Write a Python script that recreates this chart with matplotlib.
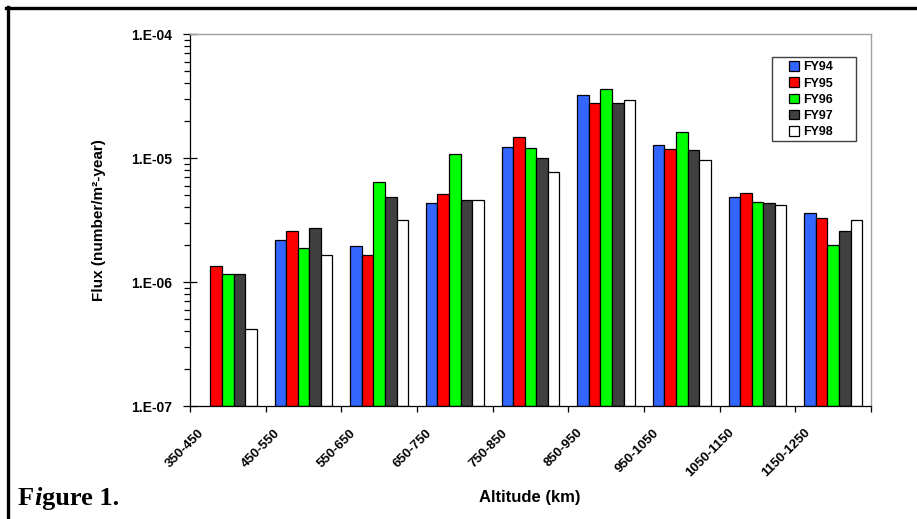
import numpy as np
import matplotlib
matplotlib.use("Agg")
import matplotlib.pyplot as plt
from matplotlib.lines import Line2D
from matplotlib.patches import Rectangle
from matplotlib.transforms import ScaledTranslation

# ---- données ----
altitudes = ["350-450", "450-550", "550-650", "650-750", "750-850",
             "850-950", "950-1050", "1050-1150", "1150-1250"]
series = ["FY94", "FY95", "FY96", "FY97", "FY98"]
fy94 = [np.nan, 2.18e-6, 1.95e-6, 4.31e-6, 1.22e-5, 3.22e-5, 1.27e-5, 4.84e-6, 3.60e-6]
fy95 = [1.35e-6, 2.58e-6, 1.64e-6, 5.10e-6, 1.48e-5, 2.76e-5, 1.19e-5, 5.19e-6, 3.26e-6]
fy96 = [1.17e-6, 1.88e-6, 6.37e-6, 1.08e-5, 1.20e-5, 3.58e-5, 1.63e-5, 4.40e-6, 1.99e-6]
fy97 = [1.16e-6, 2.72e-6, 4.82e-6, 4.60e-6, 9.95e-6, 2.76e-5, 1.16e-5, 4.33e-6, 2.58e-6]
fy98 = [4.16e-7, 1.66e-6, 3.16e-6, 4.55e-6, 7.76e-6, 2.95e-5, 9.60e-6, 4.21e-6, 3.16e-6]
yticks = [1e-7, 1e-6, 1e-5, 1e-4]
ylabels = ["1.E-07", "1.E-06", "1.E-05", "1.E-04"]

colors = ["#3366FF", "#FF0000", "#00FF00", "#404040", "#FFFFFF"]
YMIN, YMAX = 1e-7, 1e-4

plt.rcParams["font.family"] = ["Liberation Sans", "DejaVu Sans"]

fig = plt.figure(figsize=(9.17, 5.19), dpi=100)
ax = fig.add_axes([190 / 917, 1 - 406 / 519, 681 / 917, 372 / 519])
ax.set_yscale("log")
ax.set_ylim(YMIN, YMAX)
ax.set_xlim(0, len(altitudes))

w = 0.153
x = np.arange(len(altitudes)) + 0.5
for j, (name, vals) in enumerate(zip(series, [fy94, fy95, fy96, fy97, fy98])):
    v = np.array(vals)
    ok = ~np.isnan(v)
    ax.bar(x[ok] + (j - 2) * w, v[ok] - YMIN, bottom=YMIN, width=w,
           color=colors[j], edgecolor="black", linewidth=0.9, label=name, zorder=2)

# axe y
ax.set_yticks(yticks, ylabels)
ax.tick_params(axis="y", which="major", direction="inout", length=9.5, width=0.9,
               pad=8, labelsize=10)
ax.tick_params(axis="y", which="minor", direction="out", length=4.3, width=0.9)
for t in ax.get_yticklabels():
    t.set_fontweight("bold")

# axe x : traits aux limites, étiquettes au centre
ax.set_xticks(np.arange(len(altitudes) + 1))
ax.set_xticklabels([])
ax.set_xticks(x, altitudes, minor=True)
ax.tick_params(axis="x", which="major", direction="out", length=4, width=0.9)
ax.tick_params(axis="x", which="minor", length=0, pad=15, labelsize=9.5)
off = ScaledTranslation(-21 / 100, 0, fig.dpi_scale_trans)
for t in ax.get_xticklabels(minor=True):
    t.set_rotation(45)
    t.set_ha("right")
    t.set_va("top")
    t.set_fontweight("bold")
    t.set_transform(t.get_transform() + off)

for s in ["left", "bottom"]:
    ax.spines[s].set_color("black")
    ax.spines[s].set_linewidth(0.9)
for s in ["top", "right"]:
    ax.spines[s].set_color("#A0A0A0")
    ax.spines[s].set_linewidth(1.0)

ax.set_ylabel("Flux (number/m²-year)", fontsize=11, fontweight="bold", labelpad=0)
ax.yaxis.set_label_coords(-0.124, 0.5)
fig.text(530 / 917, 1 - 502 / 519, "Altitude (km)", ha="center", va="baseline",
         fontsize=12, fontweight="bold")

# légende sans cadre + cadre dessiné à la main (plus large que le contenu)
leg = ax.legend(loc="upper left", bbox_to_anchor=(0.8796, 0.927), fontsize=9,
                frameon=False, handlelength=0.8, handleheight=0.8,
                handletextpad=0.35, labelspacing=0.33, borderpad=0, borderaxespad=0)
for t in leg.get_texts():
    t.set_fontweight("bold")
ax.add_patch(Rectangle((0.8546, 0.7124), 0.978 - 0.8546, 0.938 - 0.7124,
                       transform=ax.transAxes, fill=False, edgecolor="#404040",
                       lw=1.0, zorder=5))

# "Figure 1." avec le i en italique
fx, fy = 18 / 917, 1 - 505 / 519
serif = dict(fontsize=19, fontweight="bold", family=["Liberation Serif"])
t1 = fig.text(fx, fy, "F", va="baseline", **serif)
t2 = ax.annotate("i", xy=(1, 0), xycoords=t1, va="bottom", fontstyle="italic",
                 annotation_clip=False, **serif)
ax.annotate("gure 1.", xy=(1, 0), xycoords=t2, va="bottom",
            annotation_clip=False, **serif)

# cadre noir (haut et gauche)
fig.add_artist(Line2D([6.3 / 917, 1], [1 - 8 / 519] * 2, transform=fig.transFigure,
                      color="black", lw=2.4))
fig.add_artist(Line2D([7.5 / 917] * 2, [0, 1 - 7 / 519], transform=fig.transFigure,
                      color="black", lw=2.4))

fig.savefig("out.png", dpi=100, facecolor="white")
